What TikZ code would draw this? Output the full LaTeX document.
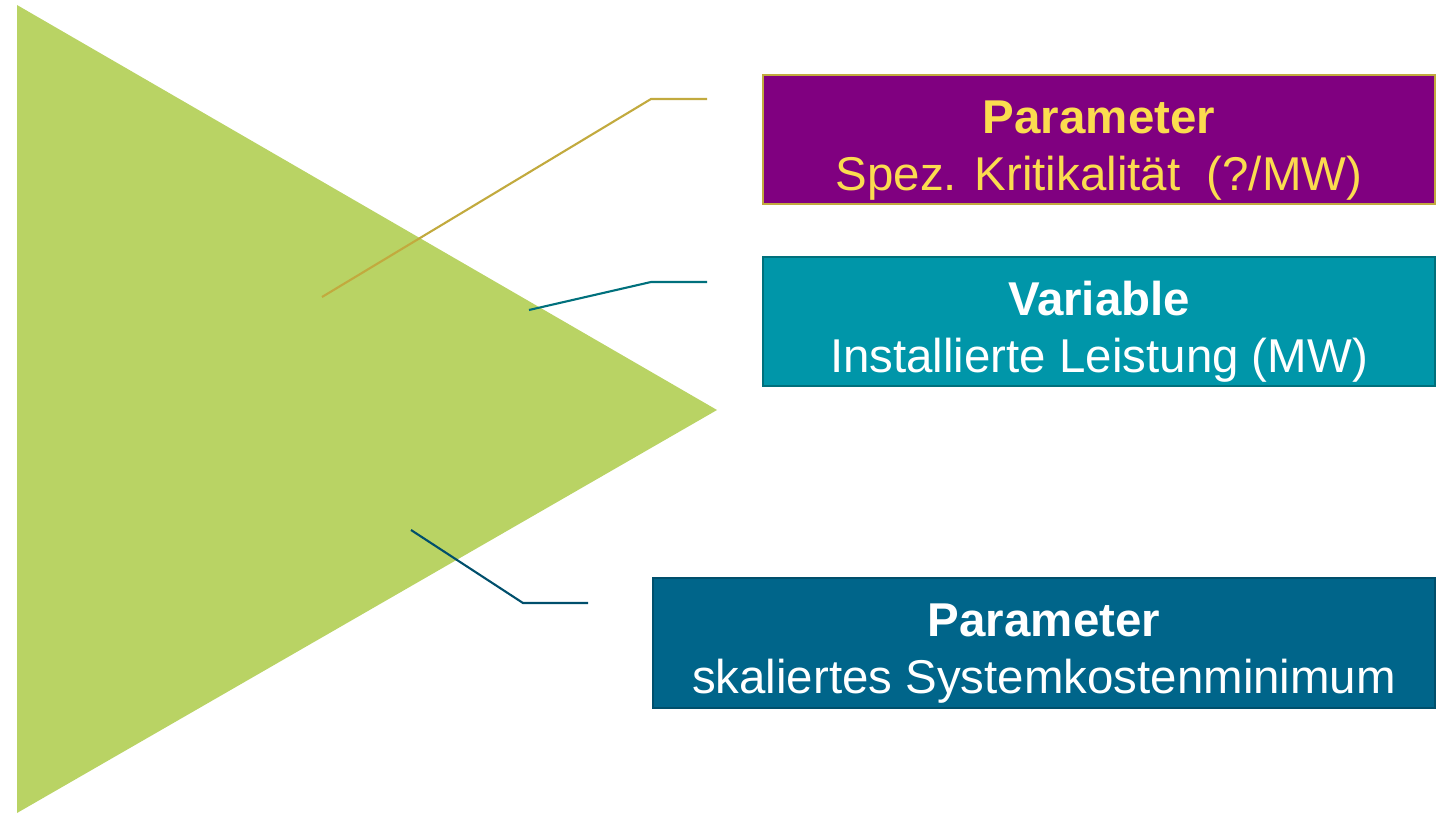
\documentclass[tikz,border=0pt]{standalone}
\usepackage{fontspec}
\setmainfont{Liberation Sans}
\usetikzlibrary{positioning}
\definecolor{leafgreen}{HTML}{B9D364}
\definecolor{parpurple}{HTML}{800080}
\definecolor{pargold}{HTML}{C2AA3E}
\definecolor{paryellow}{HTML}{FBDC4F}
\definecolor{varteal}{HTML}{0096A9}
\definecolor{vartealdark}{HTML}{00707C}
\definecolor{sysblue}{HTML}{00658A}
\definecolor{sysbluedark}{HTML}{004F6C}
\newcommand{\headline}[1]{\rule{0pt}{31pt}\textbf{#1}}
\tikzset{
  labelbox/.style = {draw, line width=1.2pt, align=center, inner sep=0pt, outer sep=0pt,
    minimum height=2.58cm, font=\fontsize{27}{32.4}\selectfont},
  leader/.style = {line width=1.2pt}
}
\begin{document}
\begin{tikzpicture}
  \useasboundingbox (0,0) rectangle (28.82,16.3);
  % triangle
  \fill[leafgreen] (0.34,16.2) -- (14.34,8.1) -- (0.34,0.04) -- cycle;
  % boxes
  \node (crit) at (21.98,13.51) [labelbox, fill=parpurple, draw=pargold, text=paryellow, minimum width=13.44cm] {\headline{Parameter}\\Spez. Kritikalität\ \ (?/MW)};
  \node (power) [labelbox, below=1.06cm of crit, fill=varteal, draw=vartealdark, text=white, minimum width=13.44cm] {\headline{Variable}\\Installierte Leistung (MW)};
  \node (cost) [labelbox, below=3.84cm of power.south east, anchor=north east, fill=sysblue, draw=sysbluedark, text=white, minimum width=15.64cm, minimum height=2.6cm] {\headline{Parameter}\\skaliertes Systemkostenminimum};
  % leader lines
  \coordinate (crit in) at (6.44,10.36);
  \coordinate (crit out) at (14.14,14.32);
  \coordinate (power in) at (10.58,10.1);
  \coordinate (power out) at (14.14,10.66);
  \coordinate (cost in) at (8.22,5.7);
  \coordinate (cost out) at (11.76,4.24);
  \draw[leader,pargold] (crit in) -- (13.02,14.32) -- (crit out);
  \draw[leader,vartealdark] (power in) -- (13.02,10.66) -- (power out);
  \draw[leader,sysbluedark] (cost in) -- (10.46,4.24) -- (cost out);
\end{tikzpicture}
\end{document}
